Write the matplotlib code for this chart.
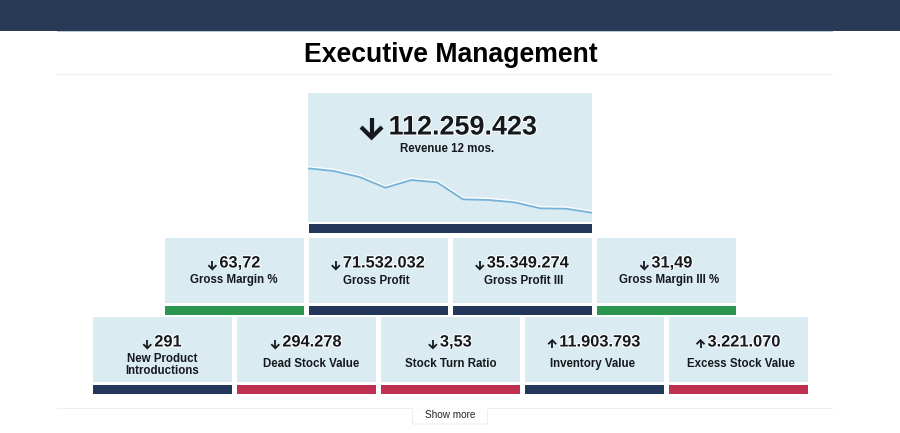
import matplotlib
matplotlib.use("Agg")
import matplotlib.pyplot as plt
import matplotlib.patheffects as pe
from matplotlib.patches import Rectangle, FancyBboxPatch

plt.rcParams['font.family'] = ['Liberation Sans', 'DejaVu Sans']

NAVY = "#22375a"
GREEN = "#2c954f"
RED = "#be2f50"
TILE = "#daebf2"
DARK = "#15191d"

# revenue sparkline, last 12 months (height above panel bottom)
revenue = [53.7, 51, 45, 34.3, 42, 39.7, 22.7, 22, 19.7, 13.7, 13.3, 9.3]

row2_values = ["63,72", "71.532.032", "35.349.274", "31,49"]
row2_labels = ["Gross Margin %", "Gross Profit", "Gross Profit III", "Gross Margin III %"]
row2_arrows = ["down", "down", "down", "down"]
row2_colors = [GREEN, NAVY, NAVY, GREEN]

row3_values = ["291", "294.278", "3,53", "11.903.793", "3.221.070"]
row3_labels = ["New Product\nIntroductions", "Dead Stock Value", "Stock Turn Ratio",
               "Inventory Value", "Excess Stock Value"]
row3_arrows = ["down", "down", "down", "up", "up"]
row3_colors = [NAVY, RED, RED, NAVY, RED]

fig = plt.figure(figsize=(9, 4.33), dpi=100)
ax = fig.add_axes([0, 0, 1, 1])
ax.set_xlim(0, 900)
ax.set_ylim(433, 0)
ax.axis("off")


def draw_arrow(x, y, direction, half_h, half_w, lw):
    # stem plus chevron, drawn pointing down or up around (x, y)
    s = 1 if direction == "down" else -1
    tip = y + s * half_h
    ax.plot([x, x], [y - s * half_h, tip - s * 1], color=DARK, lw=lw, solid_capstyle="butt", zorder=5)
    ax.plot([x - half_w, x, x + half_w], [tip - s * half_w, tip, tip - s * half_w], color=DARK, lw=lw,
            solid_capstyle="butt", solid_joinstyle="miter", zorder=5)


def value_text(cx, y, arrow, value, size, half_h, half_w, lw, gap, arrow_dy):
    # number and arrow are centred together as one group
    glow = [pe.withStroke(linewidth=1.5, foreground="white")]
    t = ax.text(cx, y, value, fontsize=size, fontweight="bold", color=DARK,
                ha="left", va="center", path_effects=glow, zorder=5)
    tw = t.get_window_extent(fig.canvas.get_renderer()).width
    left = cx - (tw + half_w + gap) / 2
    t.set_x(left + half_w + gap)
    draw_arrow(left + half_w, y + arrow_dy, arrow, half_h, half_w, lw)


def tile(x, y, w, h, bar_color, arrow, value, label, label_off, label_dx):
    ax.add_patch(Rectangle((x, y), w, h, fc=TILE, ec="none"))
    ax.add_patch(Rectangle((x, y + h + 3), w, 9, fc=bar_color, ec="none"))
    cx = x + w / 2
    value_text(cx, y + 25, arrow, value, 11.8, 4, 4, 1.3, 7, 2.2)
    if "\n" in label:
        label_off += 1
    ax.text(cx + label_dx, y + label_off, label, fontsize=8.3, fontweight="bold", color=DARK,
            ha="center", va="center", linespacing=1.1)


# header
ax.add_patch(Rectangle((0, 0), 900, 31, fc="#283a56", ec="none"))
ax.plot([57, 832], [31, 31], color="#b9c6d4", lw=0.7)
ax.plot([57, 832], [74, 74], color="#eeeeee", lw=0.8)
ax.plot([57, 832], [408, 408], color="#eeeeee", lw=0.8)
ax.text(450.5, 54.5, "Executive Management", fontsize=19.2, fontweight="bold", color="black",
        ha="center", va="center")

# top tile
ax.add_patch(Rectangle((308, 93), 284, 129, fc=TILE, ec="none"))
ax.add_patch(Rectangle((309, 224), 283, 9, fc=NAVY, ec="none"))
value_text(449, 127.5, "down", "112.259.423", 19.4, 10, 10.5, 3, 17, 0)
ax.text(447.5, 148.5, "Revenue 12 mos.", fontsize=8.3, fontweight="bold", color=DARK,
        ha="center", va="center")

# sparkline sits on the top tile
spark = fig.add_axes([308 / 900, 1 - 222 / 433, 284 / 900, 129 / 433])
spark.patch.set_alpha(0)
spark.axis("off")
spark.set_xlim(0, len(revenue) - 1)
spark.set_ylim(0, 129)
spark.plot(range(len(revenue)), [v + 1.3 for v in revenue], color="white", lw=1.4)
spark.plot(range(len(revenue)), revenue, color="#74b3d8", lw=1.3)

# second row, labels are not quite centred in the original
for x, c, ar, v, l, dx in zip([165, 309, 453, 597], row2_colors, row2_arrows, row2_values, row2_labels,
                              [-0.5, -2, 1.5, 2.5]):
    tile(x, 238, 139, 65, c, ar, v, l, 42.5, dx)

# third row
for x, c, ar, v, l, dx in zip([93, 237, 381, 525, 669], row3_colors, row3_arrows, row3_values, row3_labels,
                              [0, 4.5, 0, -1.5, 2]):
    tile(x, 317, 139, 65, c, ar, v, l, 47, dx)

# show more button
ax.add_patch(FancyBboxPatch((412.5, 408.5), 75, 15.5, boxstyle="round,pad=0,rounding_size=1",
                            fc="white", ec="#eeeeee", lw=0.8))
ax.plot([413, 487], [408.5, 408.5], color="white", lw=1.2)
ax.text(450, 414.5, "Show more", fontsize=7.2, color="#222222", ha="center", va="center")

fig.savefig("out.png", dpi=100)
